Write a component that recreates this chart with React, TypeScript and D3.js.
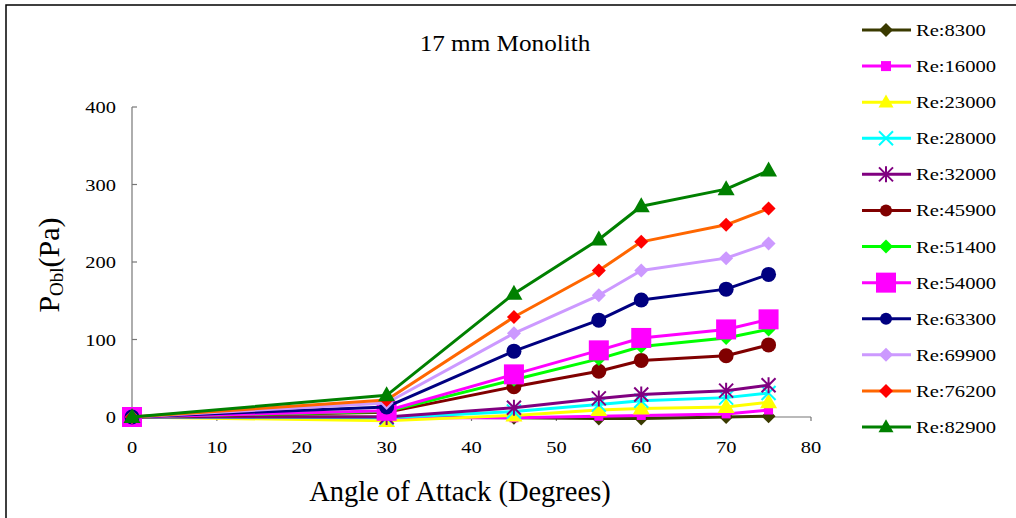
import React from "react";
import * as d3 from "d3";

const angles = [0, 30, 45, 55, 60, 70, 75];
const xTicks = [0, 10, 20, 30, 40, 50, 60, 70, 80];
const yTicks = [0, 100, 200, 300, 400];

const seriesNames = ["Re:8300", "Re:16000", "Re:23000", "Re:28000", "Re:32000", "Re:45900", "Re:51400", "Re:54000", "Re:63300", "Re:69900", "Re:76200", "Re:82900"];
const re8300 = [0, 0, -1, -2, -2, 0, 1];
const re16000 = [0, -1, -1, 1, 2, 4, 9];
const re23000 = [0, -5, 2, 9, 11, 13, 19];
const re28000 = [0, -1, 7, 16, 21, 25, 31];
const re32000 = [0, 0, 12, 24, 29, 34, 41];
const re45900 = [0, 6, 39, 59, 73, 79, 93];
const re51400 = [0, 7, 48, 75, 91, 102, 113];
const re54000 = [0, 8, 55, 86, 102, 113, 126];
const re63300 = [0, 13, 85, 125, 151, 165, 184];
const re69900 = [0, 18, 108, 157, 189, 205, 224];
const re76200 = [0, 22, 129, 189, 226, 248, 269];
const re82900 = [0, 28, 159, 229, 272, 294, 318];

const seriesValues = [re8300, re16000, re23000, re28000, re32000, re45900, re51400, re54000, re63300, re69900, re76200, re82900];
const lineColors = ["#3a3a00", "#ff00ff", "#ffff00", "#00ffff", "#800080", "#800000", "#00ff00", "#ff00ff", "#000080", "#cc99ff", "#ff6600", "#008000"];
const markerColors = ["#3a3a00", "#ff00ff", "#ffff00", "#00ffff", "#800080", "#800000", "#00ff00", "#ff00ff", "#000080", "#cc99ff", "#ff0000", "#008000"];
const markerTypes = ["diamond", "square", "triangle", "x", "star", "circle", "diamond", "bigsquare", "circle", "diamond", "diamond", "triangle"];

const FONT = "'Liberation Serif', 'Times New Roman', serif";
const STRETCH = 1.17;

function Marker({ type, x, y, color, legend }: { type: string; x: number; y: number; color: string; legend?: boolean }) {
  switch (type) {
    case "diamond": {
      const r = 7;
      return <path d={`M${x},${y - r}L${x + r},${y}L${x},${y + r}L${x - r},${y}Z`} fill={color} />;
    }
    case "square": {
      const s = legend ? 10 : 9;
      return <rect x={x - s / 2} y={y - s / 2} width={s} height={s} fill={color} />;
    }
    case "bigsquare": {
      const s = 20;
      return <rect x={x - s / 2} y={y - s / 2} width={s} height={s} fill={color} />;
    }
    case "triangle": {
      const w = legend ? 15 : 17, h = legend ? 13 : 15;
      return <path d={`M${x},${y - h * 0.6}L${x + w / 2},${y + h * 0.4}L${x - w / 2},${y + h * 0.4}Z`} fill={color} />;
    }
    case "x": {
      const r = 7;
      return <path d={`M${x - r},${y - r}L${x + r},${y + r}M${x - r},${y + r}L${x + r},${y - r}`} stroke={color} strokeWidth={2} />;
    }
    case "star": {
      const r = 7;
      return <path d={`M${x - r},${y - r}L${x + r},${y + r}M${x - r},${y + r}L${x + r},${y - r}M${x},${y - r - 1}L${x},${y + r + 1}`} stroke={color} strokeWidth={2} />;
    }
    case "circle":
    default:
      return <circle cx={x} cy={y} r={legend ? 6 : 7.5} fill={color} />;
  }
}

function SText({ x, y, size, anchor, children, sx = STRETCH }: { x: number; y: number; size: number; anchor?: string; children: React.ReactNode; sx?: number }) {
  return (
    <text transform={`translate(${x},${y}) scale(${sx},1)`} fontSize={size} textAnchor={anchor || "start"} fill="#000">
      {children}
    </text>
  );
}

export default function App() {
  const W = 1016, H = 518;
  const x = d3.scaleLinear().domain([0, 80]).range([132, 811]);
  const y = d3.scaleLinear().domain([0, 400]).range([417, 107]);
  const line = d3.line<number>().x((_, i) => x(angles[i])).y((v) => y(v));
  const legendY = d3.scaleLinear().domain([0, 11]).range([30, 427]);

  return (
    <svg width={W} height={H} style={{ position: "absolute", left: 0, top: 0, background: "#fff" }} fontFamily={FONT}>
      <rect x={0} y={0} width={W} height={H} fill="#fff" />
      <rect x={6} y={5} width={W + 10} height={H + 10} fill="none" stroke="#000" strokeWidth={1.5} />

      <SText x={505} y={51} size={24} anchor="middle" sx={1.05}>17 mm Monolith</SText>

      {/* axes */}
      <line x1={x(0)} x2={x(0)} y1={y(400)} y2={y(0)} stroke="#777" strokeWidth={1.2} />
      <line x1={x(0)} x2={x(80)} y1={y(0)} y2={y(0)} stroke="#777" strokeWidth={1.2} />
      {yTicks.map((t) => (
        <g key={"yt" + t}>
          <line x1={x(0)} x2={x(0) + 5} y1={y(t)} y2={y(t)} stroke="#777" strokeWidth={1.2} />
          <SText x={x(0) - 16} y={y(t) + 6} size={17.5} anchor="end">{t}</SText>
        </g>
      ))}
      {xTicks.map((t) => (
        <g key={"xt" + t}>
          <line x1={x(t)} x2={x(t)} y1={y(0)} y2={y(0) + 4} stroke="#777" strokeWidth={1.2} />
          <SText x={x(t)} y={y(0) + 36} size={17.5} anchor="middle">{t}</SText>
        </g>
      ))}

      <text x={460} y={501} fontSize={28.5} textAnchor="middle" fill="#000">Angle of Attack (Degrees)</text>
      <text transform="translate(59,265) rotate(-90)" fontSize={30} textAnchor="middle" fill="#000">
        P<tspan fontSize={19} dy={4}>Obl</tspan><tspan dy={-4}>(Pa)</tspan>
      </text>

      {/* series */}
      {seriesValues.map((vals, si) => (
        <g key={"s" + si}>
          <path d={line(vals) || ""} fill="none" stroke={lineColors[si]} strokeWidth={3} strokeLinejoin="round" />
          {vals.map((v, i) => (
            <Marker key={i} type={markerTypes[si]} x={x(angles[i])} y={y(v)} color={markerColors[si]} />
          ))}
        </g>
      ))}

      {/* legend */}
      {seriesNames.map((name, si) => {
        const ly = legendY(si);
        return (
          <g key={"l" + si}>
            <line x1={862} x2={911} y1={ly} y2={ly} stroke={lineColors[si]} strokeWidth={3} />
            <Marker type={markerTypes[si]} x={886} y={ly} color={markerColors[si]} legend />
            <SText x={916} y={ly + 6} size={17.6}>{name}</SText>
          </g>
        );
      })}
    </svg>
  );
}
